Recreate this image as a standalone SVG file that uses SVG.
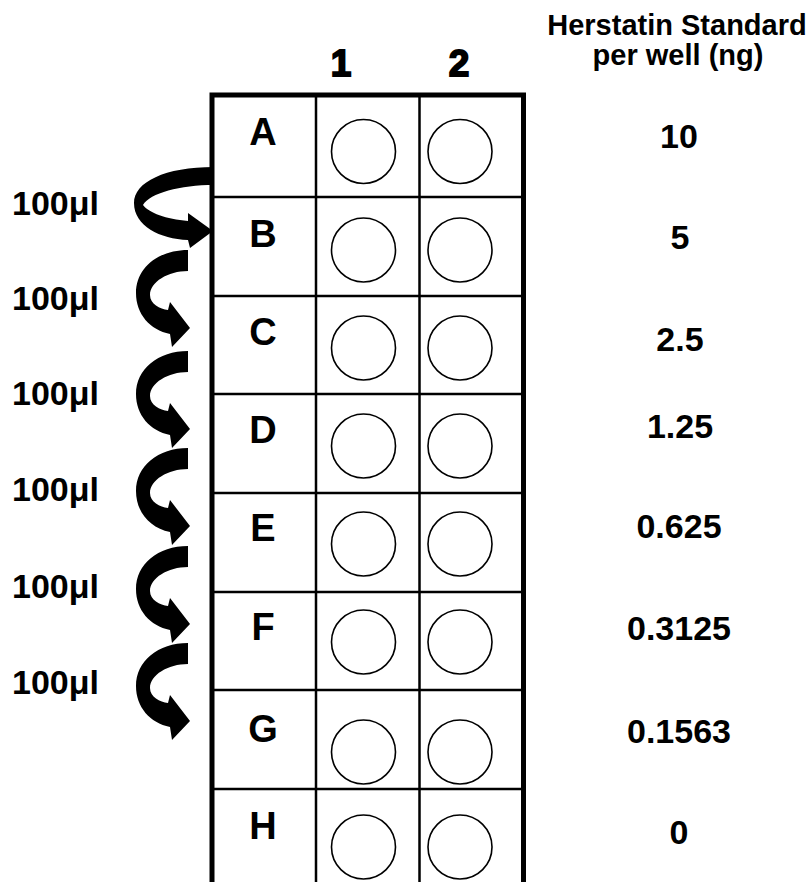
<svg xmlns="http://www.w3.org/2000/svg" xmlns:xlink="http://www.w3.org/1999/xlink" width="812" height="882" viewBox="0 0 812 882">
<style>
.t{font-family:"Liberation Sans",Arial,sans-serif;font-weight:bold;fill:#000}
.row{font-size:38px;text-anchor:middle}
.val{font-size:34px;text-anchor:middle}
.vol{font-size:34px}
.hdr{font-size:29px;text-anchor:middle}
.col{font-size:37px;text-anchor:middle;stroke:#000;stroke-width:1.8}
.grid{stroke:#000;fill:none}
.well{fill:#fff;stroke:#000;stroke-width:1.6}
.arr{fill:#000}
</style>
<defs>
<path id="carrow" d="M188,0 L188,21 C168,21 150,32 150,45 C150,54 160,59 168,60 L170,52 L190,78 L172,97 L170,84 C150,80 136,64 136,43 C136,18 158,0 188,0 Z"/>
</defs>
<rect width="812" height="882" fill="#fff"/>
<g id="header">
<text class="t hdr" x="677" y="35">Herstatin Standard</text>
<text class="t hdr" x="678" y="65">per well (ng)</text>
<text class="t col" x="341" y="76">1</text>
<text class="t col" x="459" y="76">2</text>
</g>
<g id="plate">
<path class="grid" stroke-width="5" d="M212,882 L212,95 L523.5,95 L523.5,882"/>
<path class="grid" stroke-width="2.5" d="M316,95 L316,882 M419.5,95 L419.5,882 M212,197 L523.5,197 M212,296 L523.5,296 M212,394 L523.5,394 M212,493 L523.5,493 M212,592 L523.5,592 M212,690 L523.5,690 M212,789 L523.5,789"/>
</g>
<g id="rowA"><text class="t row" x="263" y="145">A</text><circle class="well" cx="363.5" cy="151.5" r="32"/><circle class="well" cx="460" cy="151.5" r="32"/><text class="t val" x="679" y="148">10</text></g>
<g id="rowB"><text class="t row" x="263" y="247">B</text><circle class="well" cx="363.5" cy="250" r="32"/><circle class="well" cx="460" cy="250" r="32"/><text class="t val" x="680" y="249">5</text></g>
<g id="rowC"><text class="t row" x="263" y="345">C</text><circle class="well" cx="363.5" cy="348" r="32"/><circle class="well" cx="460" cy="348" r="32"/><text class="t val" x="680" y="351">2.5</text></g>
<g id="rowD"><text class="t row" x="263" y="443">D</text><circle class="well" cx="363.5" cy="446" r="32"/><circle class="well" cx="460" cy="446" r="32"/><text class="t val" x="680" y="438">1.25</text></g>
<g id="rowE"><text class="t row" x="263" y="541">E</text><circle class="well" cx="363.5" cy="544" r="32"/><circle class="well" cx="460" cy="544" r="32"/><text class="t val" x="679" y="538">0.625</text></g>
<g id="rowF"><text class="t row" x="263" y="640">F</text><circle class="well" cx="363.5" cy="642" r="32"/><circle class="well" cx="460" cy="642" r="32"/><text class="t val" x="679" y="640">0.3125</text></g>
<g id="rowG"><text class="t row" x="263" y="742">G</text><circle class="well" cx="363.5" cy="752" r="32"/><circle class="well" cx="460" cy="752" r="32"/><text class="t val" x="679" y="743">0.1563</text></g>
<g id="rowH"><text class="t row" x="263" y="839">H</text><circle class="well" cx="363.5" cy="847" r="32"/><circle class="well" cx="460" cy="847" r="32"/><text class="t val" x="679" y="844">0</text></g>
<g id="connectors">
<path class="arr" d="M214,167 C165,167 134,182 134,203 C134,226 160,239 188,240 L190,248 L213,231 L188,213 L188,221 C166,219 149,213 143,205 C150,193 180,185 214,185 Z"/>
<use xlink:href="#carrow" class="arr" transform="translate(0,250)"/>
<use xlink:href="#carrow" class="arr" transform="translate(0,351)"/>
<use xlink:href="#carrow" class="arr" transform="translate(0,448)"/>
<use xlink:href="#carrow" class="arr" transform="translate(0,546)"/>
<use xlink:href="#carrow" class="arr" transform="translate(0,643)"/>
</g>
<g id="labels">
<text class="t vol" x="12" y="215">100μl</text>
<text class="t vol" x="12" y="310">100μl</text>
<text class="t vol" x="12" y="405">100μl</text>
<text class="t vol" x="12" y="501">100μl</text>
<text class="t vol" x="12" y="598">100μl</text>
<text class="t vol" x="12" y="694">100μl</text>
</g>
</svg>
